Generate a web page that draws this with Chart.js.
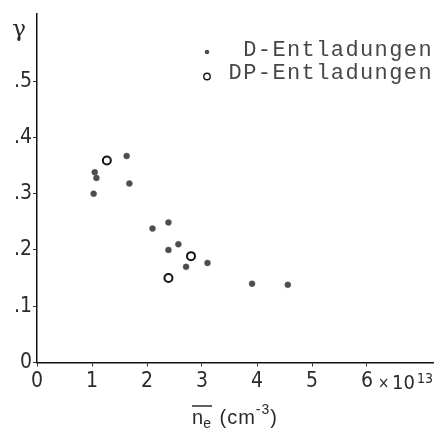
<!DOCTYPE html>
<html>
<head>
<meta charset="utf-8">
<script src="https://cdn.jsdelivr.net/npm/chart.js@4/dist/chart.umd.min.js"></script>
<style>
  html, body { margin: 0; padding: 0; background: #fff; }
  #wrap { width: 439px; height: 430px; }
</style>
</head>
<body>
<div id="wrap"><canvas id="chart"></canvas></div>
<script>
// electron density (x 10^13 cm^-3) vs. gamma
const dX = [1.03, 1.05, 1.08, 1.63, 1.68, 2.10, 2.39, 2.39, 2.57, 2.71, 3.10, 3.91, 4.56];
const dY = [0.300, 0.338, 0.328, 0.367, 0.318, 0.238, 0.249, 0.200, 0.210, 0.170, 0.177, 0.140, 0.138];
const dpX = [1.27, 2.80, 2.39];
const dpY = [0.359, 0.189, 0.150];
const seriesNames = ['D-Entladungen', 'DP-Entladungen'];
const xTicks = [0, 1, 2, 3, 4, 5, 6];
const yTicks = [0, 0.1, 0.2, 0.3, 0.4, 0.5];

const ink = '#2b2b2b';
const tickFont = "'Liberation Sans Narrow', 'DejaVu Sans Condensed', 'Liberation Sans', sans-serif";

const toPoints = (xs, ys) => xs.map((x, i) => ({ x: x, y: ys[i] }));

// axis annotations and the small key in the upper right
const decorations = {
  id: 'decorations',
  afterDraw(chart) {
    const ctx = chart.ctx;
    const area = chart.chartArea;
    ctx.save();
    ctx.fillStyle = ink;
    ctx.strokeStyle = ink;

    // gamma
    ctx.font = "23px 'DejaVu Serif', serif";
    ctx.textAlign = 'center';
    ctx.textBaseline = 'alphabetic';
    ctx.fillText('\u03B3', 19, 36);

    // x 10^13
    ctx.textAlign = 'left';
    ctx.font = "15px " + tickFont;
    ctx.fillText('\u00D7', 378, 388);
    ctx.font = "20px " + tickFont;
    ctx.fillText('10', 392, 389);
    ctx.font = "14px " + tickFont;
    ctx.fillText('13', 417, 383);

    // x axis title: n_e with overbar, then (cm^-3)
    const big = "20px 'Liberation Sans', sans-serif";
    const small = "14px 'Liberation Sans', sans-serif";
    ctx.letterSpacing = '1px';
    ctx.font = big;
    const wn = ctx.measureText('n').width;
    const wOpen = ctx.measureText(' (cm').width;
    const wClose = ctx.measureText(')').width;
    ctx.font = small;
    const we = ctx.measureText('e').width;
    const wSup = ctx.measureText('-3').width;
    const total = wn + we + wOpen + wSup + wClose;
    let x = (area.left + area.right) / 2 - total / 2;
    const base = 424;
    ctx.font = big;
    ctx.fillText('n', x, base);
    ctx.font = small;
    ctx.fillText('e', x + wn - 1, base + 4);
    ctx.lineWidth = 1.5;
    ctx.beginPath();
    ctx.moveTo(x, 406);
    ctx.lineTo(x + wn + we - 1, 406);
    ctx.stroke();
    x += wn + we;
    ctx.font = big;
    ctx.fillText(' (cm', x, base);
    x += wOpen;
    ctx.font = small;
    ctx.fillText('-3', x, base - 10);
    x += wSup;
    ctx.font = big;
    ctx.fillText(')', x, base);

    // key
    ctx.font = "22px 'Liberation Mono', 'DejaVu Sans Mono', monospace";
    ctx.letterSpacing = '1.4px';
    ctx.textAlign = 'right';
    ctx.textBaseline = 'middle';
    ctx.fillStyle = '#474747';
    ctx.fillText(seriesNames[0], 433, 50);
    ctx.fillText(seriesNames[1], 433, 73);
    const d0 = chart.data.datasets[0];
    const d1 = chart.data.datasets[1];
    ctx.fillStyle = d0.backgroundColor;
    ctx.beginPath();
    ctx.arc(207, 52, 2.3, 0, Math.PI * 2);
    ctx.fill();
    ctx.strokeStyle = d1.borderColor;
    ctx.lineWidth = 1.4;
    ctx.beginPath();
    ctx.arc(207, 76.5, 3.2, 0, Math.PI * 2);
    ctx.stroke();
    ctx.restore();
  }
};

new Chart(document.getElementById('chart'), {
  type: 'scatter',
  data: {
    datasets: [
      {
        label: seriesNames[0],
        data: toPoints(dX, dY),
        backgroundColor: '#4d4d4d',
        borderColor: '#5c5c5c',
        borderWidth: 0.5,
        pointRadius: 3
      },
      {
        label: seriesNames[1],
        data: toPoints(dpX, dpY),
        backgroundColor: '#ffffff',
        borderColor: '#151515',
        borderWidth: 2,
        pointRadius: 4
      }
    ]
  },
  options: {
    responsive: true,
    maintainAspectRatio: false,
    animation: false,
    layout: { padding: { top: 12, right: 3, left: 0, bottom: 0 } },
    plugins: {
      legend: { display: false },
      tooltip: { enabled: false }
    },
    scales: {
      x: {
        type: 'linear',
        min: 0,
        max: 7.2,
        afterBuildTicks: (scale) => { scale.ticks = xTicks.map(v => ({ value: v })); },
        afterFit: (scale) => { scale.height = 67.5; },
        border: { display: true, color: '#111', width: 1.5 },
        grid: { drawOnChartArea: false, drawTicks: true, tickLength: 4, tickColor: '#333', lineWidth: 1 },
        ticks: {
          color: ink,
          padding: 2,
          maxRotation: 0,
          autoSkip: false,
          font: { family: tickFont, size: 21 },
          callback: (v) => String(v)
        }
      },
      y: {
        type: 'linear',
        min: 0,
        max: 0.62,
        afterBuildTicks: (scale) => { scale.ticks = yTicks.map(v => ({ value: v })); },
        afterFit: (scale) => { scale.width = 37; },
        border: { display: true, color: '#111', width: 1.5 },
        grid: { drawOnChartArea: false, drawTicks: true, tickLength: 4, tickColor: '#333', lineWidth: 1 },
        ticks: {
          color: ink,
          padding: 1,
          autoSkip: false,
          font: { family: tickFont, size: 21 },
          callback: (v) => v === 0 ? '0' : v.toFixed(1).replace(/^0/, '')
        }
      }
    }
  },
  plugins: [decorations]
});
</script>
</body>
</html>
